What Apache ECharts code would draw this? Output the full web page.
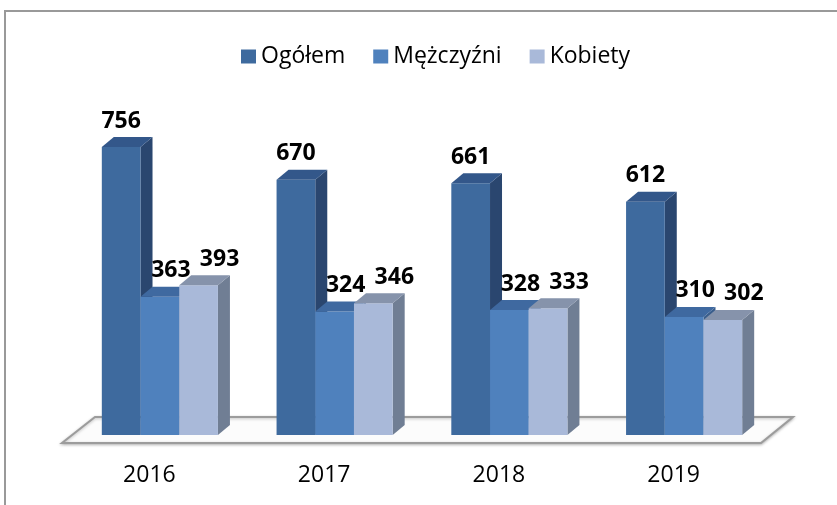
<!DOCTYPE html>
<html>
<head>
<meta charset="utf-8">
<script src="https://cdn.jsdelivr.net/npm/echarts@6/dist/echarts.min.js"></script>
<style>
  html, body { margin: 0; padding: 0; background: #fff; }
  #chart { width: 837px; height: 505px; }
</style>
</head>
<body>
<div id="chart"></div>
<script>
// dane
const years = ['2016', '2017', '2018', '2019']
const seriesNames = ['Ogółem', 'Mężczyźni', 'Kobiety']
const ogolem = [756, 670, 661, 612]
const mezczyzni = [363, 324, 328, 310]
const kobiety = [393, 346, 333, 302]

// kolory: przód, góra, bok
const palette = [
  { front: '#3e6a9e', top: '#33578a', side: '#2a466f' },
  { front: '#4f81bd', top: '#3f69a0', side: '#3a5e8c' },
  { front: '#a9b9d9', top: '#8693ab', side: '#707e94' }
]

const DX = 12   // głębia słupka w poziomie
const DY = 10   // głębia słupka w pionie
const labelShift = [0, 11, 21]

const chart = echarts.init(document.getElementById('chart'))

const barSeries = (name, values, idx) => ({
  name: name,
  type: 'custom',
  z: 3,
  itemStyle: { color: palette[idx].front },
  encode: { x: 0, y: 1 },
  data: values.map((v, i) => [i, v]),
  renderItem: (params, api) => {
    const cat = api.value(0)
    const val = api.value(1)
    const base = api.coord([cat, 0])
    const top = api.coord([cat, val])
    const band = api.size([1, 0])[0]
    const bw = band * 0.2215
    const cx = base[0] + 10.5 + (idx - 1) * bw
    const x0 = cx - bw / 2
    const x1 = cx + bw / 2
    const yt = top[1]
    const yb = base[1]
    const c = palette[idx]
    return {
      type: 'group',
      children: [
        {
          type: 'polygon',
          shape: { points: [[x1, yt], [x1 + DX, yt - DY], [x1 + DX, yb - DY], [x1, yb]] },
          style: { fill: c.side }
        },
        {
          type: 'rect',
          shape: { x: x0, y: yt, width: bw, height: yb - yt },
          style: { fill: c.front }
        },
        {
          type: 'polygon',
          shape: { points: [[x0, yt], [x1, yt], [x1 + DX, yt - DY], [x0 + DX, yt - DY]] },
          style: { fill: c.top }
        },
        {
          type: 'text',
          z2: 10,
          style: {
            text: String(val),
            x: cx + labelShift[idx],
            y: yt - 26,
            align: 'center',
            verticalAlign: 'middle',
            fontFamily: 'Open Sans',
            fontWeight: 'bold',
            fontSize: 23,
            fill: '#000'
          }
        }
      ]
    }
  }
})

const option = {
  animation: false,
  backgroundColor: '#fff',
  graphic: [
    {
      type: 'rect',
      z: 0,
      shape: { x: 5, y: 11, width: 900, height: 600 },
      style: { fill: 'none', stroke: '#999', lineWidth: 2 }
    }
  ],
  legend: {
    data: seriesNames,
    left: 236,
    top: 40,
    icon: 'rect',
    itemWidth: 15,
    itemHeight: 14,
    itemGap: 28,
    textStyle: { fontFamily: 'Open Sans', fontSize: 23, color: '#000' }
  },
  grid: { left: 62, right: 76, top: 54, bottom: 70 },
  xAxis: {
    type: 'category',
    data: years,
    axisLine: { show: false },
    axisTick: { show: false },
    axisLabel: {
      margin: 29,
      fontFamily: 'Open Sans',
      fontSize: 23,
      color: '#000'
    }
  },
  yAxis: {
    type: 'value',
    min: 0,
    max: 1000,
    show: false,
    splitLine: { show: false }
  },
  series: [
    {
      name: 'podłoga',
      type: 'custom',
      z: 1,
      silent: true,
      data: [[0, 0]],
      renderItem: (params, api) => {
        const cs = params.coordSys
        const y0 = cs.y + cs.height
        const l = cs.x
        const r = cs.x + cs.width
        return {
          type: 'polygon',
          shape: { points: [[l, y0 + 8], [r, y0 + 8], [r + 32, y0 - 18], [l + 33, y0 - 18]] },
          style: {
            fill: '#fcfcfc',
            stroke: '#9c9c9c',
            lineWidth: 2,
            shadowBlur: 3,
            shadowColor: 'rgba(0,0,0,0.25)',
            shadowOffsetY: 1
          }
        }
      }
    },
    barSeries(seriesNames[0], ogolem, 0),
    barSeries(seriesNames[1], mezczyzni, 1),
    barSeries(seriesNames[2], kobiety, 2)
  ]
}

chart.setOption(option)
</script>
</body>
</html>
